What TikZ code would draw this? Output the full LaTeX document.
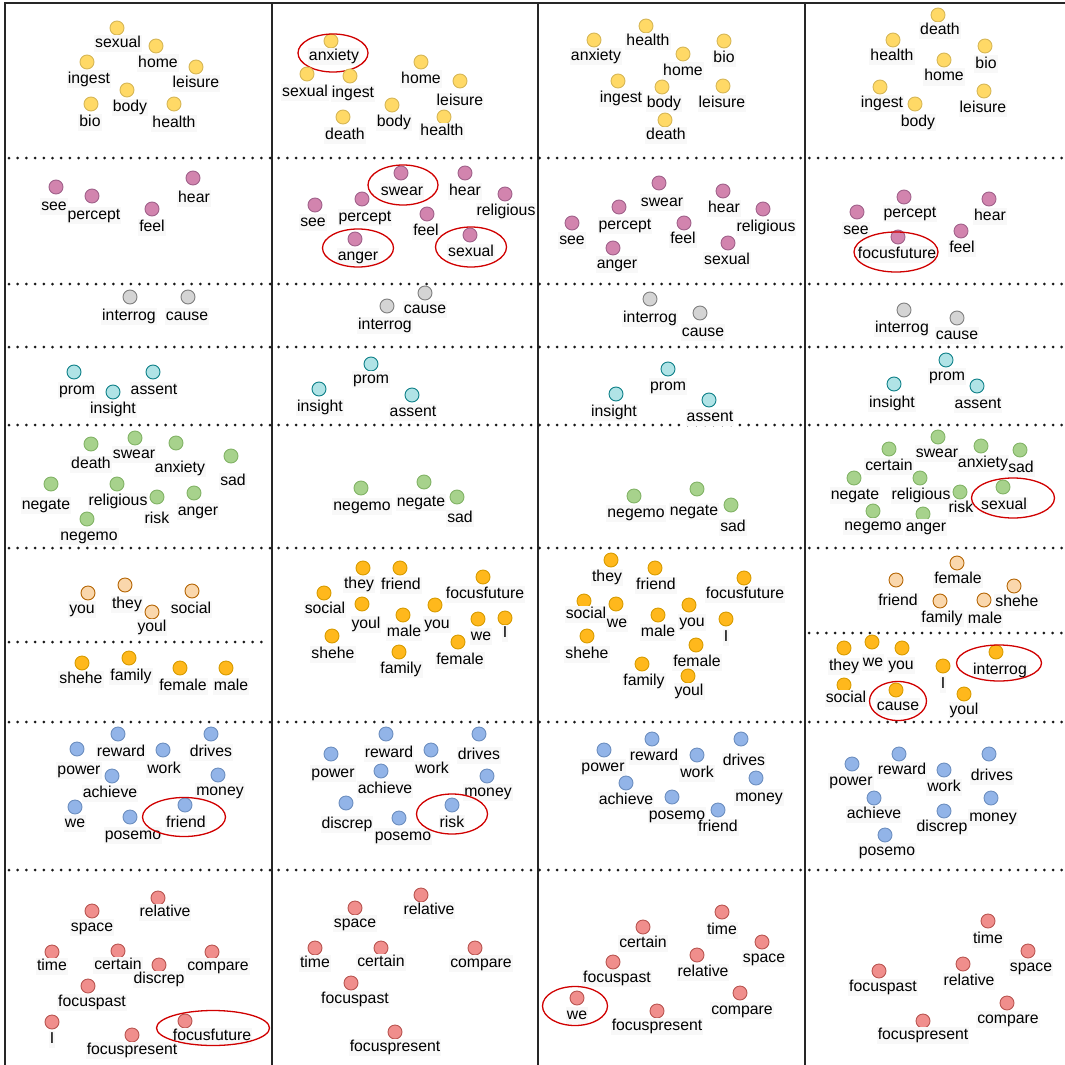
\documentclass[tikz,border=0pt]{standalone}
\usepackage{fontspec}
\setmainfont{Liberation Sans}
\usetikzlibrary{shapes.geometric}
\definecolor{yF}{HTML}{FFD966}\definecolor{yD}{HTML}{D6B656}
\definecolor{pF}{HTML}{D284AE}\definecolor{pD}{HTML}{A0618A}
\definecolor{gF}{HTML}{D4D4D4}\definecolor{gD}{HTML}{7F7F7F}
\definecolor{cF}{HTML}{B0E3E6}\definecolor{cD}{HTML}{0E8088}
\definecolor{nF}{HTML}{A7D28C}\definecolor{nD}{HTML}{82B366}
\definecolor{lF}{HTML}{FAD7AC}\definecolor{lD}{HTML}{B46504}
\definecolor{oF}{HTML}{FFB81C}\definecolor{oD}{HTML}{D79B00}
\definecolor{bF}{HTML}{92B4E8}\definecolor{bD}{HTML}{6C8EBF}
\definecolor{rF}{HTML}{F08E8C}\definecolor{rD}{HTML}{B85450}
\definecolor{hlred}{HTML}{D00000}
\definecolor{labbg}{HTML}{F8F8F8}
\tikzset{
  dot/.style={circle, minimum size=14pt, inner sep=0pt, line width=0.9pt},
  yel/.style={fill=yF, draw=yD},
  pin/.style={fill=pF, draw=pD},
  gry/.style={fill=gF, draw=gD},
  cya/.style={fill=cF, draw=cD},
  grn/.style={fill=nF, draw=nD},
  pch/.style={fill=lF, draw=lD},
  org/.style={fill=oF, draw=oD},
  blu/.style={fill=bF, draw=bD},
  rdd/.style={fill=rF, draw=rD},
  lab/.style={font=\fontsize{15.8}{18}\selectfont, inner sep=1pt, fill=labbg, text height=11.5pt, text depth=3.5pt},
  hl/.style={ellipse, draw=hlred, line width=1.3pt, inner sep=0pt},
  frame/.style={line width=1.4pt, draw=black!85},
  dotline/.style={line width=3pt, dash pattern=on 0pt off 8.7pt, line cap=round, draw=black!90}
}
\newcommand{\W}[7]{\node[dot,#2] (#1) at (#3,#4) {}; \node[lab] (#1l) at (#5,#6) {#7};}
\newcommand{\HL}[5]{\node[hl, minimum width=#4pt, minimum height=#5pt] (#1) at (#2,#3) {};}
\begin{document}
\begin{tikzpicture}[x=1pt,y=-1pt]
\useasboundingbox (0,0) rectangle (1065,1065);
% frame
\draw[frame] (5,1065) -- (5,3) -- (1065,3);
\draw[frame] (272,3) -- (272,1065);
\draw[frame] (538,3) -- (538,1065);
\draw[frame] (805,3) -- (805,1065);
% dotted separators
\foreach \yy in {158,284,347,425,548,722,870} {\draw[dotline] (9,\yy) -- (1065,\yy);}
\draw[dotline] (9,642) -- (266,642);
\draw[dotline] (809,633) -- (1065,633);
% ---------------- column 1
\W{1Ysexual}{yel}{117}{28}{118}{44}{sexual}
\W{1Yhome}{yel}{156}{46}{158}{63}{home}
\W{1Yingest}{yel}{87}{62}{89}{79}{ingest}
\W{1Yleisure}{yel}{196}{67}{196}{83}{leisure}
\W{1Ybody}{yel}{127}{90}{130}{107}{body}
\W{1Ybio}{yel}{91}{104}{90}{122}{bio}
\W{1Yhealth}{yel}{174}{104}{174}{123}{health}
\W{1Psee}{pin}{56}{187}{54}{206}{see}
\W{1Ppercept}{pin}{92}{196}{94}{215}{percept}
\W{1Phear}{pin}{193}{178}{194}{198}{hear}
\W{1Pfeel}{pin}{152}{209}{152}{227}{feel}
\W{1Ginterrog}{gry}{130}{297}{129}{316}{interrog}
\W{1Gcause}{gry}{188}{297}{187}{316}{cause}
\W{1Cprom}{cya}{74}{372}{77}{390}{prom}
\W{1Cinsight}{cya}{113}{392}{113}{409}{insight}
\W{1Cassent}{cya}{153}{372}{154}{390}{assent}
\W{1Ndeath}{grn}{91}{444}{91}{464}{death}
\W{1Nswear}{grn}{135}{438}{134}{454}{swear}
\W{1Nanxiety}{grn}{176}{443}{180}{468}{anxiety}
\W{1Nsad}{grn}{231}{456}{233}{481}{sad}
\W{1Nnegate}{grn}{51}{484}{46}{505}{negate}
\W{1Nreligious}{grn}{117}{484}{118}{501}{religious}
\W{1Nrisk}{grn}{157}{497}{157}{519}{risk}
\W{1Nanger}{grn}{194}{493}{198}{511}{anger}
\W{1Nnegemo}{grn}{87}{519}{89}{536}{negemo}
\W{1Lyou}{pch}{88}{593}{82}{609}{you}
\W{1Lthey}{pch}{125}{585}{127}{604}{they}
\W{1Lyoul}{pch}{152}{612}{152}{627}{youl}
\W{1Lsocial}{pch}{192}{591}{191}{609}{social}
\W{1Oshehe}{org}{82}{663}{81}{679}{shehe}
\W{1Ofamily}{org}{129}{658}{131}{676}{family}
\W{1Ofemale}{org}{180}{668}{183}{686}{female}
\W{1Omale}{org}{226}{668}{231}{686}{male}
\W{1Breward}{blu}{118}{734}{121}{752}{reward}
\W{1Bdrives}{blu}{211}{734}{211}{752}{drives}
\W{1Bpower}{blu}{77}{749}{79}{770}{power}
\W{1Bwork}{blu}{163}{750}{164}{769}{work}
\W{1Bachieve}{blu}{112}{776}{110}{793}{achieve}
\W{1Bmoney}{blu}{218}{775}{220}{791}{money}
\W{1Bwe}{blu}{75}{807}{75}{823}{we}
\W{1Bposemo}{blu}{130}{817}{133}{835}{posemo}
\W{1Bfriend}{blu}{185}{805}{186}{823}{friend}
\HL{1Bfriendhl}{184}{817}{83}{39}
\W{1Rrelative}{rdd}{158}{898}{165}{912}{relative}
\W{1Rspace}{rdd}{92}{911}{92}{927}{space}
\W{1Rtime}{rdd}{52}{952}{52}{966}{time}
\W{1Rcertain}{rdd}{118}{951}{118}{965}{certain}
\W{1Rdiscrep}{rdd}{159}{965}{159}{979}{discrep}
\W{1Rcompare}{rdd}{212}{952}{218}{966}{compare}
\W{1Rfocuspast}{rdd}{88}{986}{92}{1002}{focuspast}
\W{1RI}{rdd}{52}{1022}{52}{1039}{I}
\W{1Rfocusfuture}{rdd}{185}{1021}{212}{1036}{focusfuture}
\HL{1Rfocusfuturehl}{213}{1028}{113}{35}
\W{1Rfocuspresent}{rdd}{132}{1035}{132}{1050}{focuspresent}
% ---------------- column 2
\W{2Yanxiety}{yel}{331}{41}{334}{57}{anxiety}
\HL{2Yanxietyhl}{333}{53}{70}{38}
\W{2Ysexual}{yel}{307}{74}{305}{92}{sexual}
\W{2Yingest}{yel}{350}{76}{353}{93}{ingest}
\W{2Yhome}{yel}{421}{62}{421}{79}{home}
\W{2Yleisure}{yel}{460}{81}{460}{101}{leisure}
\W{2Ybody}{yel}{392}{105}{394}{122}{body}
\W{2Ydeath}{yel}{343}{117}{345}{135}{death}
\W{2Yhealth}{yel}{444}{117}{442}{131}{health}
\W{2Pswear}{pin}{401}{173}{402}{191}{swear}
\HL{2Pswearhl}{403}{185}{70}{40}
\W{2Phear}{pin}{465}{173}{465}{191}{hear}
\W{2Preligious}{pin}{505}{194}{506}{211}{religious}
\W{2Psee}{pin}{315}{205}{313}{222}{see}
\W{2Ppercept}{pin}{362}{199}{365}{217}{percept}
\W{2Pfeel}{pin}{427}{214}{426}{231}{feel}
\W{2Panger}{pin}{355}{239}{358}{256}{anger}
\HL{2Pangerhl}{358}{248}{71}{38}
\W{2Psexual}{pin}{470}{235}{471}{252}{sexual}
\HL{2Psexualhl}{471}{247}{71}{40}
\W{2Gcause}{gry}{425}{293}{425}{309}{cause}
\W{2Ginterrog}{gry}{387}{306}{385}{325}{interrog}
\W{2Cprom}{cya}{371}{364}{371}{379}{prom}
\W{2Cinsight}{cya}{319}{389}{320}{407}{insight}
\W{2Cassent}{cya}{412}{395}{413}{412}{assent}
\W{2Nnegemo}{grn}{361}{488}{362}{506}{negemo}
\W{2Nnegate}{grn}{424}{482}{421}{502}{negate}
\W{2Nsad}{grn}{457}{497}{460}{518}{sad}
\W{2Othey}{org}{363}{568}{359}{584}{they}
\W{2Ofriend}{org}{400}{568}{401}{585}{friend}
\W{2Ofocusfuture}{org}{483}{577}{485}{594}{focusfuture}
\W{2Osocial}{org}{324}{593}{325}{609}{social}
\W{2Oyoul}{org}{362}{604}{366}{624}{youl}
\W{2Oyou}{org}{435}{605}{437}{624}{you}
\W{2Omale}{org}{403}{615}{404}{632}{male}
\W{2Owe}{org}{478}{619}{481}{636}{we}
\W{2OI}{org}{505}{618}{505}{633}{I}
\W{2Oshehe}{org}{332}{636}{333}{654}{shehe}
\W{2Ofemale}{org}{458}{642}{460}{660}{female}
\W{2Ofamily}{org}{399}{652}{401}{669}{family}
\W{2Breward}{blu}{386}{734}{389}{753}{reward}
\W{2Bdrives}{blu}{479}{734}{479}{755}{drives}
\W{2Bpower}{blu}{331}{754}{333}{773}{power}
\W{2Bwork}{blu}{431}{750}{432}{769}{work}
\W{2Bachieve}{blu}{381}{771}{385}{789}{achieve}
\W{2Bmoney}{blu}{487}{776}{488}{792}{money}
\W{2Bdiscrep}{blu}{346}{803}{347}{824}{discrep}
\W{2Bposemo}{blu}{399}{818}{403}{836}{posemo}
\W{2Brisk}{blu}{452}{805}{452}{823}{risk}
\HL{2Briskhl}{452}{814}{71}{40}
\W{2Rrelative}{rdd}{421}{895}{429}{910}{relative}
\W{2Rspace}{rdd}{355}{908}{355}{923}{space}
\W{2Rtime}{rdd}{315}{948}{315}{963}{time}
\W{2Rcertain}{rdd}{381}{948}{381}{962}{certain}
\W{2Rcompare}{rdd}{475}{948}{481}{963}{compare}
\W{2Rfocuspast}{rdd}{351}{983}{355}{999}{focuspast}
\W{2Rfocuspresent}{rdd}{395}{1032}{395}{1047}{focuspresent}
% ---------------- column 3
\W{3Yhealth}{yel}{646}{26}{648}{42}{health}
\W{3Yanxiety}{yel}{594}{40}{596}{57}{anxiety}
\W{3Ybio}{yel}{724}{41}{724}{59}{bio}
\W{3Yhome}{yel}{683}{54}{683}{71}{home}
\W{3Yingest}{yel}{618}{81}{621}{98}{ingest}
\W{3Ybody}{yel}{662}{87}{664}{103}{body}
\W{3Yleisure}{yel}{723}{86}{722}{103}{leisure}
\W{3Ydeath}{yel}{665}{120}{666}{135}{death}
\W{3Pswear}{pin}{659}{183}{662}{202}{swear}
\W{3Phear}{pin}{723}{191}{724}{208}{hear}
\W{3Preligious}{pin}{763}{209}{766}{227}{religious}
\W{3Ppercept}{pin}{619}{207}{625}{225}{percept}
\W{3Pfeel}{pin}{684}{223}{683}{239}{feel}
\W{3Psee}{pin}{572}{223}{572}{240}{see}
\W{3Panger}{pin}{613}{248}{617}{264}{anger}
\W{3Psexual}{pin}{728}{243}{727}{260}{sexual}
\W{3Ginterrog}{gry}{650}{299}{650}{318}{interrog}
\W{3Gcause}{gry}{700}{313}{703}{332}{cause}
\W{3Cprom}{cya}{668}{369}{668}{386}{prom}
\W{3Cinsight}{cya}{616}{394}{614}{412}{insight}
\W{3Cassent}{cya}{709}{400}{710}{417}{assent}
\W{3Nnegemo}{grn}{634}{496}{636}{513}{negemo}
\W{3Nnegate}{grn}{697}{489}{694}{511}{negate}
\W{3Nsad}{grn}{731}{505}{733}{527}{sad}
\W{3Othey}{org}{611}{560}{607}{577}{they}
\W{3Ofriend}{org}{655}{568}{656}{585}{friend}
\W{3Ofocusfuture}{org}{744}{578}{745}{594}{focusfuture}
\W{3Osocial}{org}{584}{601}{586}{614}{social}
\W{3Owe}{org}{616}{604}{617}{623}{we}
\W{3Oyou}{org}{689}{605}{692}{622}{you}
\W{3Omale}{org}{658}{615}{658}{632}{male}
\W{3OI}{org}{726}{619}{726}{637}{I}
\W{3Oshehe}{org}{587}{636}{587}{654}{shehe}
\W{3Ofemale}{org}{696}{645}{697}{662}{female}
\W{3Ofamily}{org}{642}{664}{644}{681}{family}
\W{3Oyoul}{org}{688}{676}{689}{691}{youl}
\W{3Breward}{blu}{652}{739}{654}{756}{reward}
\W{3Bdrives}{blu}{741}{739}{744}{761}{drives}
\W{3Bpower}{blu}{604}{750}{603}{767}{power}
\W{3Bwork}{blu}{697}{755}{697}{773}{work}
\W{3Bachieve}{blu}{626}{783}{626}{800}{achieve}
\W{3Bmoney}{blu}{756}{778}{759}{797}{money}
\W{3Bposemo}{blu}{672}{797}{677}{815}{posemo}
\W{3Bfriend}{blu}{718}{810}{718}{827}{friend}
\W{3Rtime}{rdd}{722}{912}{722}{930}{time}
\W{3Rcertain}{rdd}{643}{927}{643}{943}{certain}
\W{3Rspace}{rdd}{762}{942}{764}{958}{space}
\W{3Rrelative}{rdd}{697}{955}{703}{972}{relative}
\W{3Rfocuspast}{rdd}{613}{962}{617}{978}{focuspast}
\W{3Rcompare}{rdd}{740}{993}{742}{1010}{compare}
\W{3Rwe}{rdd}{577}{998}{577}{1015}{we}
\HL{3Rwehl}{575}{1006}{65}{39}
\W{3Rfocuspresent}{rdd}{657}{1011}{657}{1026}{focuspresent}
% ---------------- column 4
\W{4Ydeath}{yel}{938}{15}{940}{31}{death}
\W{4Yhealth}{yel}{893}{40}{892}{57}{health}
\W{4Ybio}{yel}{985}{46}{986}{64}{bio}
\W{4Yhome}{yel}{944}{60}{944}{77}{home}
\W{4Yingest}{yel}{880}{87}{882}{103}{ingest}
\W{4Ybody}{yel}{915}{104}{918}{122}{body}
\W{4Yleisure}{yel}{984}{91}{983}{108}{leisure}
\W{4Ppercept}{pin}{904}{197}{910}{213}{percept}
\W{4Phear}{pin}{989}{199}{990}{216}{hear}
\W{4Psee}{pin}{857}{212}{856}{230}{see}
\W{4Pfeel}{pin}{961}{231}{962}{248}{feel}
\W{4Pfocusfuture}{pin}{898}{237}{897}{254}{focusfuture}
\HL{4Pfocusfuturehl}{896}{252}{84}{40}
\W{4Ginterrog}{gry}{904}{310}{902}{328}{interrog}
\W{4Gcause}{gry}{957}{318}{957}{335}{cause}
\W{4Cprom}{cya}{946}{360}{947}{376}{prom}
\W{4Cinsight}{cya}{894}{384}{892}{403}{insight}
\W{4Cassent}{cya}{977}{386}{978}{404}{assent}
\W{4Nswear}{grn}{938}{437}{937}{453}{swear}
\W{4Ncertain}{grn}{889}{449}{889}{466}{certain}
\W{4Nanxiety}{grn}{981}{446}{983}{463}{anxiety}
\W{4Nsad}{grn}{1020}{450}{1021}{468}{sad}
\W{4Nnegate}{grn}{854}{478}{855}{495}{negate}
\W{4Nreligious}{grn}{920}{478}{921}{495}{religious}
\W{4Nrisk}{grn}{960}{492}{961}{508}{risk}
\W{4Nsexual}{grn}{1003}{487}{1004}{505}{sexual}
\HL{4Nsexualhl}{1013}{498}{83}{40}
\W{4Nnegemo}{grn}{873}{511}{873}{526}{negemo}
\W{4Nanger}{grn}{923}{514}{926}{527}{anger}
\W{4Lfemale}{pch}{957}{563}{958}{579}{female}
\W{4Lfriend}{pch}{896}{580}{898}{601}{friend}
\W{4Lshehe}{pch}{1014}{586}{1017}{602}{shehe}
\W{4Lfamily}{pch}{940}{601}{942}{618}{family}
\W{4Lmale}{pch}{984}{600}{985}{619}{male}
\W{4Othey}{org}{844}{648}{844}{666}{they}
\W{4Owe}{org}{872}{642}{873}{662}{we}
\W{4Oyou}{org}{902}{648}{901}{665}{you}
\W{4OI}{org}{943}{666}{943}{684}{I}
\W{4Ointerrog}{org}{996}{652}{1000}{670}{interrog}
\HL{4Ointerroghl}{999}{663}{85}{36}
\W{4Osocial}{org}{844}{685}{846}{698}{social}
\W{4Ocause}{org}{896}{690}{898}{706}{cause}
\HL{4Ocausehl}{898}{701}{57}{39}
\W{4Oyoul}{org}{964}{694}{964}{710}{youl}
\W{4Breward}{blu}{899}{754}{902}{770}{reward}
\W{4Bdrives}{blu}{989}{754}{992}{776}{drives}
\W{4Bpower}{blu}{852}{764}{851}{781}{power}
\W{4Bwork}{blu}{944}{770}{944}{787}{work}
\W{4Bachieve}{blu}{874}{798}{874}{814}{achieve}
\W{4Bmoney}{blu}{991}{798}{993}{817}{money}
\W{4Bdiscrep}{blu}{944}{811}{942}{827}{discrep}
\W{4Bposemo}{blu}{885}{835}{887}{851}{posemo}
\W{4Rtime}{rdd}{988}{921}{988}{939}{time}
\W{4Rspace}{rdd}{1028}{951}{1031}{967}{space}
\W{4Rrelative}{rdd}{963}{964}{969}{981}{relative}
\W{4Rfocuspast}{rdd}{879}{971}{883}{987}{focuspast}
\W{4Rcompare}{rdd}{1007}{1003}{1008}{1019}{compare}
\W{4Rfocuspresent}{rdd}{923}{1021}{923}{1035}{focuspresent}
\end{tikzpicture}
\end{document}
